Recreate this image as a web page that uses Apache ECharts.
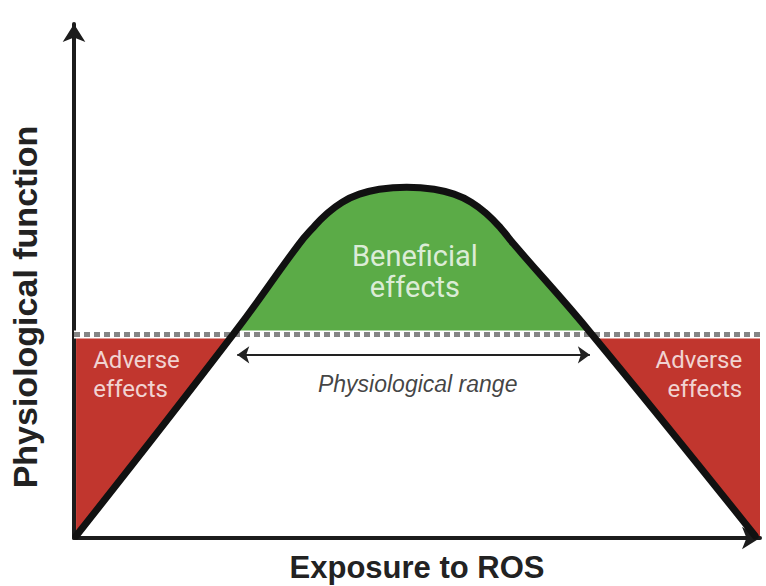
<!DOCTYPE html>
<html>
<head>
<meta charset="utf-8">
<script src="https://cdn.jsdelivr.net/npm/echarts@6/dist/echarts.min.js"></script>
<style>
html, body { margin: 0; padding: 0; background: #fff; }
#main { width: 766px; height: 586px; }
</style>
</head>
<body>
<div id="main"></div>
<script>
var myChart = echarts.init(document.getElementById('main'), null, { renderer: 'svg' });

// response curve (exposure, function)
var curveX = [0.3, 23.2, 32.8, 34.8, 36.8, 39.1, 41.6, 44.5, 48.5, 52.5, 55.4, 57.9, 60.2, 62.2, 64.1, 75.5, 99.3];
var curveY = [0.4, 40.8, 58.9, 62.1, 64.9, 67.3, 68.9, 69.9, 70.3, 69.9, 68.9, 67.3, 64.9, 62.1, 58.9, 40.8, 0.4];
var threshold = 40.8;
var rightEdge = [100.3, 0.4];
var lineEnds = [0, 100.3];
var rangeArrow = [[23.8, 36.7], [75.2, 36.7]];

var axisNames = ['Exposure to ROS', 'Physiological function'];
var labels = [
	{ name: 'Beneficial\neffects', value: [49.7, 53.5] },
	{ name: 'Adverse\neffects', value: [2.8, 32.7] },
	{ name: 'Adverse\neffects', value: [97.4, 32.7] },
	{ name: 'Physiological range', value: [50.1, 30.9] }
];

var curve = curveX.map(function (x, i) { return [x, curveY[i]]; });
var upper = curve.filter(function (p) { return p[1] >= threshold; });
var lowLeft = curve.filter(function (p) { return p[0] < 50 && p[1] <= threshold; });
var lowRight = curve.filter(function (p) { return p[0] > 50 && p[1] <= threshold; }).concat([rightEdge]);

var axisBase = {
	type: 'value',
	axisLine: {
		show: true,
		symbol: ['none', 'arrow'],
		symbolSize: [17, 18],
		lineStyle: { color: '#1c1c1c', width: 4 }
	},
	axisTick: { show: false },
	axisLabel: { show: false },
	splitLine: { show: false },
	nameLocation: 'middle',
	nameTextStyle: {
		fontFamily: 'Liberation Sans',
		fontWeight: 'bold',
		fontSize: 31,
		color: '#222'
	}
};

var option = {
	backgroundColor: '#fff',
	animation: false,
	grid: { left: 74, right: 6, top: 24, bottom: 48, containLabel: false, outerBoundsMode: 'none' },
	xAxis: echarts.util.merge({ min: 0, max: 100, name: axisNames[0], nameGap: 14 }, axisBase),
	yAxis: echarts.util.merge({
		min: 0, max: 103, name: axisNames[1], nameGap: 32, nameRotate: 90,
		nameTextStyle: { fontSize: 34, padding: [0, 52, 0, 0] }
	}, axisBase),
	series: [
		{
			type: 'line', data: upper, smooth: 0.45, symbol: 'none', z: 1,
			lineStyle: { width: 0 },
			areaStyle: { color: '#5bab47', opacity: 1, origin: threshold }
		},
		{
			type: 'line', data: lowLeft, symbol: 'none', z: 1, clip: false,
			lineStyle: { width: 0 },
			areaStyle: { color: '#c1362e', opacity: 1, origin: threshold }
		},
		{
			type: 'line', data: lowRight, symbol: 'none', z: 1, clip: false,
			lineStyle: { width: 0 },
			areaStyle: { color: '#c1362e', opacity: 1, origin: threshold }
		},
		{
			type: 'line', data: [[lineEnds[0], threshold], [lineEnds[1], threshold]], symbol: 'none', z: 2, clip: false,
			lineStyle: { color: '#fff', width: 8 }
		},
		{
			type: 'line', data: [[lineEnds[0], threshold], [lineEnds[1], threshold]], symbol: 'none', z: 3, clip: false,
			lineStyle: { color: '#858585', width: 5, type: [6, 4] }
		},
		{
			type: 'line', data: curve, smooth: 0.45, symbol: 'none', z: 4,
			lineStyle: { color: '#111', width: 7, cap: 'round', join: 'round' },
			markLine: {
				silent: true,
				symbol: ['arrow', 'arrow'],
				symbolSize: [13, 12],
				label: { show: false },
				lineStyle: { color: '#222', width: 2, type: 'solid' },
				data: [[{ coord: rangeArrow[0] }, { coord: rangeArrow[1] }]]
			}
		},
		{
			type: 'scatter', symbolSize: 0, z: 5,
			data: labels.map(function (d, i) {
				var style;
				if (i === 0) style = { fontSize: 29, lineHeight: 31, color: '#fff', fontFamily: 'Roboto' };
				else if (i === 1) style = { fontSize: 24, lineHeight: 29, color: '#fff', fontFamily: 'Roboto', align: 'left' };
				else if (i === 2) style = { fontSize: 24, lineHeight: 29, color: '#fff', fontFamily: 'Roboto', align: 'right' };
				else style = { fontSize: 23, color: '#111', fontFamily: 'Liberation Sans', fontStyle: 'italic' };
				return { name: d.name, value: d.value, label: style };
			}),
			label: { show: true, position: 'inside', formatter: '{b}' }
		}
	]
};
myChart.setOption(option);
</script>
</body>
</html>
